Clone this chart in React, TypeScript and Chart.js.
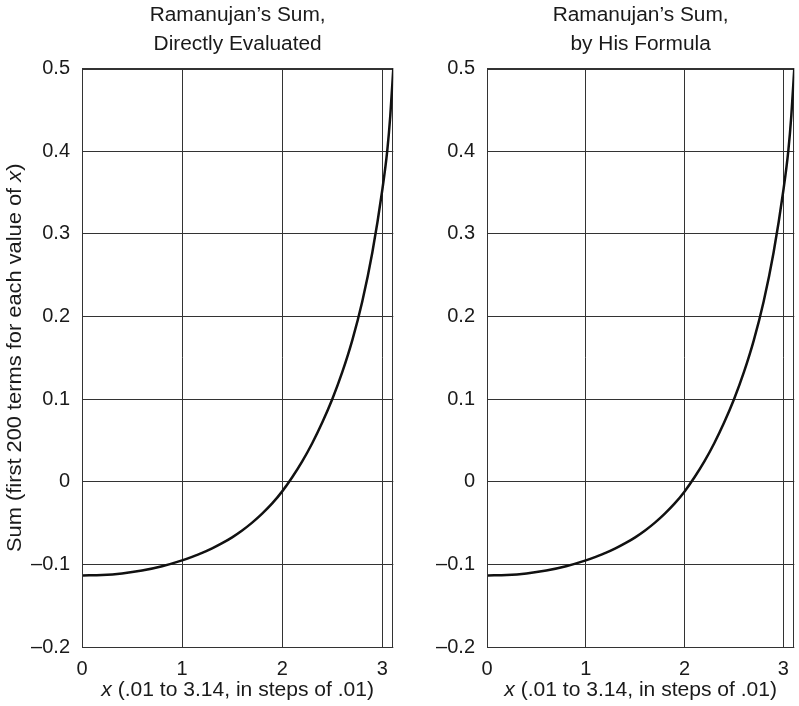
import React, { useEffect, useRef } from "react";
import { Chart, registerables } from "chart.js";

Chart.register(...registerables);

// ---- data ----
const xValues = [0.01, 0.2, 0.4, 0.6, 0.8, 1.0, 1.1, 1.2, 1.3, 1.4, 1.5, 1.6, 1.7, 1.8, 1.9, 2.0, 2.1, 2.2, 2.3, 2.4, 2.5, 2.6, 2.7, 2.8, 2.9, 3.0, 3.05, 3.08, 3.11];
const sumValues = [-0.1134, -0.1129, -0.111, -0.1075, -0.1023, -0.0952, -0.0909, -0.0862, -0.0807, -0.0744, -0.0673, -0.059, -0.0495, -0.0386, -0.0263, -0.0117, 0.0054, 0.0246, 0.0466, 0.0716, 0.0998, 0.1325, 0.171, 0.218, 0.277, 0.353, 0.401, 0.443, 0.5];

const xTicks = [0, 1, 2, 3];
const yTicks = [-0.2, -0.1, 0, 0.1, 0.2, 0.3, 0.4, 0.5];
const xRange = [0, 3.11];
const yRange = [-0.2, 0.5];

const leftTitle = ["Ramanujan\u2019s Sum,", "Directly Evaluated"];
const rightTitle = ["Ramanujan\u2019s Sum,", "by His Formula"];
const xAxisTitle: [string, boolean][] = [["x", true], [" (.01 to 3.14, in steps of .01)", false]];
const yAxisTitle: [string, boolean][] = [["Sum (first 200 terms for each value of ", false], ["x", true], [")", false]];

const FAMILY = "'Liberation Sans', Arial, Helvetica, sans-serif";
const FONT_SIZE = 20;
const TEXT_SIZE = 19.5;
const TEXT_COLOR = "#1a1a1a";
const GRID_COLOR = "#333333";

function fontStr(italic: boolean) {
  return `${italic ? "italic " : ""}${TEXT_SIZE}px ${FAMILY}`;
}

function drawMixed(ctx: CanvasRenderingContext2D, parts: [string, boolean][], cx: number, baseline: number, sx: number) {
  ctx.save();
  ctx.translate(cx, baseline);
  ctx.scale(sx, 1);
  let total = 0;
  const widths = parts.map(([t, it]) => {
    ctx.font = fontStr(it);
    const w = ctx.measureText(t).width;
    total += w;
    return w;
  });
  let x = -total / 2;
  ctx.textAlign = "left";
  ctx.textBaseline = "alphabetic";
  parts.forEach(([t, it], i) => {
    ctx.font = fontStr(it);
    ctx.fillText(t, x, 0);
    x += widths[i];
  });
  ctx.restore();
}

function formatY(v: number) {
  if (Math.abs(v) < 1e-9) return "0";
  return (v < 0 ? "\u2013" : "") + Math.abs(v).toFixed(1);
}

type PanelProps = { title: string[]; showYTitle: boolean; left: number; width: number; padRight: number };

function Panel({ title, showYTitle, left, width, padRight }: PanelProps) {
  const ref = useRef<HTMLCanvasElement>(null);
  useEffect(() => {
    const textPlugin = {
      id: "panelText",
      beforeDatasetsDraw(chart: any) {
        const { ctx, chartArea } = chart;
        ctx.save();
        ctx.strokeStyle = GRID_COLOR;
        ctx.lineWidth = 1;
        const l = Math.round(chartArea.left) + 0.5;
        const t = Math.round(chartArea.top) + 0.5;
        const r = Math.round(chartArea.right) - 0.5;
        const b = Math.round(chartArea.bottom) + 0.5;
        ctx.strokeRect(l, t, r - l, b - t);
        ctx.restore();
      },
      afterDraw(chart: any) {
        const { ctx, chartArea } = chart;
        const cx = (chartArea.left + chartArea.right) / 2;
        ctx.save();
        ctx.fillStyle = TEXT_COLOR;
        drawMixed(ctx, [[title[0], false]], cx, 21, 1.07);
        drawMixed(ctx, [[title[1], false]], cx, 49.5, 1.07);
        drawMixed(ctx, xAxisTitle, cx, 696, 1.08);
        if (showYTitle) {
          const cy = (chartArea.top + chartArea.bottom) / 2;
          ctx.translate(20.5, cy);
          ctx.rotate(-Math.PI / 2);
          drawMixed(ctx, yAxisTitle, 0, 0, 1.12);
        }
        ctx.restore();
      },
    };

    const chart = new Chart(ref.current!, {
      type: "line",
      data: {
        datasets: [
          {
            data: xValues.map((x, i) => ({ x, y: sumValues[i] })),
            borderColor: "#111111",
            borderWidth: 2.5,
            pointRadius: 0,
            cubicInterpolationMode: "monotone",
            fill: false,
          },
        ],
      },
      options: {
        responsive: false,
        animation: false,
        devicePixelRatio: 1,
        layout: { padding: { top: 68.5, right: padRight, bottom: 0, left: 0 } },
        plugins: { legend: { display: false }, tooltip: { enabled: false }, title: { display: false } },
        scales: {
          x: {
            type: "linear",
            min: xRange[0],
            max: xRange[1],
            afterBuildTicks: (s: any) => { s.ticks = xTicks.map((v) => ({ value: v })); },
            afterFit: (s: any) => { s.height = 59; },
            grid: { color: GRID_COLOR, lineWidth: 1, drawTicks: false },
            border: { display: false },
            ticks: {
              padding: 10,
              color: TEXT_COLOR,
              font: { family: FAMILY, size: FONT_SIZE },
              maxRotation: 0,
              callback: (v: any) => String(v),
            },
          },
          y: {
            type: "linear",
            min: yRange[0],
            max: yRange[1],
            afterBuildTicks: (s: any) => { s.ticks = yTicks.map((v) => ({ value: v })); },
            afterFit: (s: any) => { s.width = 82; },
            grid: { color: GRID_COLOR, lineWidth: 1, drawTicks: false },
            border: { display: false },
            ticks: {
              padding: 12,
              color: TEXT_COLOR,
              font: { family: FAMILY, size: FONT_SIZE },
              callback: (v: any) => formatY(Number(v)),
            },
          },
        },
      } as any,
      plugins: [textPlugin],
    });
    return () => chart.destroy();
  }, []);
  return (
    <canvas
      ref={ref}
      width={width}
      height={706}
      style={{ position: "absolute", left, top: 0, width, height: 706 }}
    />
  );
}

export default function App() {
  return (
    <div style={{ position: "absolute", left: 0, top: 0, width: 799, height: 706, background: "#fff", overflow: "hidden" }}>
      <Panel title={leftTitle} showYTitle={true} left={0} width={400} padRight={6.7} />
      <Panel title={rightTitle} showYTitle={false} left={405} width={394} padRight={0.5} />
    </div>
  );
}
